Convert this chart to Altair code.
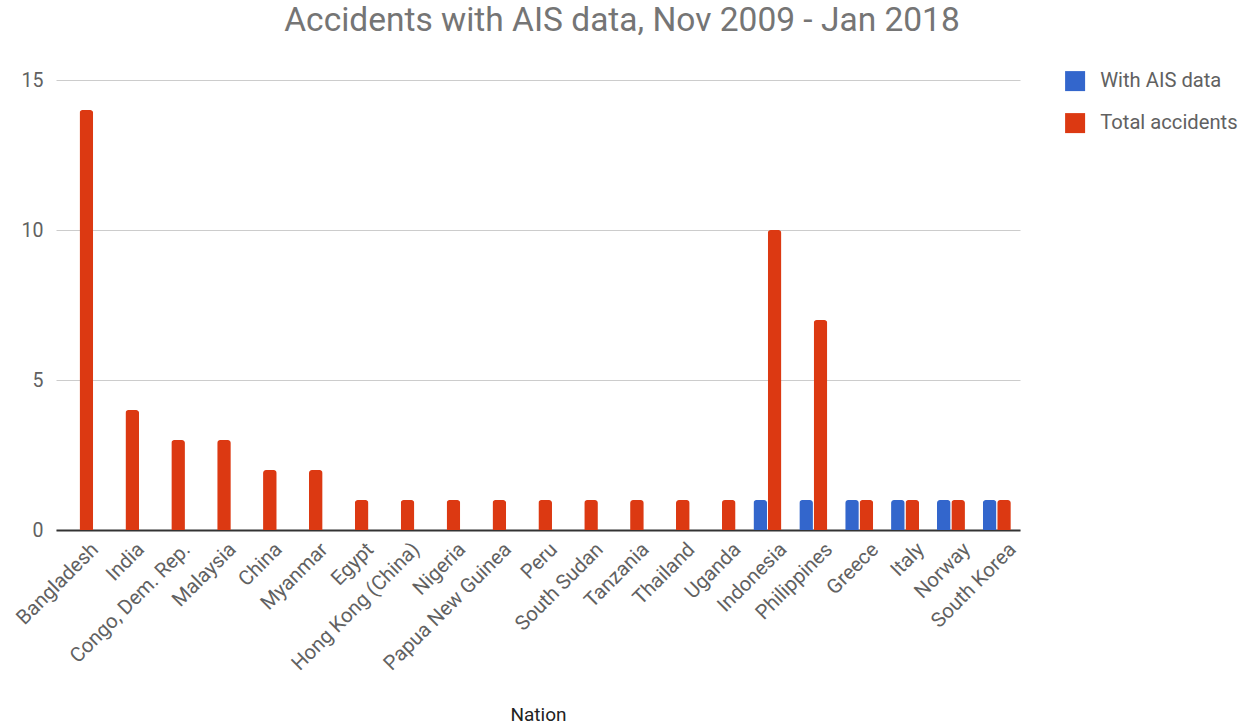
import altair as alt
import pandas as pd

nations = ["Bangladesh", "India", "Congo, Dem. Rep.", "Malaysia", "China", "Myanmar",
           "Egypt", "Hong Kong (China)", "Nigeria", "Papua New Guinea", "Peru",
           "South Sudan", "Tanzania", "Thailand", "Uganda", "Indonesia", "Philippines",
           "Greece", "Italy", "Norway", "South Korea"]
with_ais = [0, 0, 0, 0, 0, 0, 0, 0, 0, 0, 0, 0, 0, 0, 0, 1, 1, 1, 1, 1, 1]
total_accidents = [14, 4, 3, 3, 2, 2, 1, 1, 1, 1, 1, 1, 1, 1, 1, 10, 7, 1, 1, 1, 1]
series = ["With AIS data", "Total accidents"]
colors = ["#3366cc", "#dc3912"]

rows = []
for n, a, t in zip(nations, with_ais, total_accidents):
    rows.append({"Nation": n, "Series": series[0], "Value": a})
    rows.append({"Nation": n, "Series": series[1], "Value": t})
df = pd.DataFrame(rows)

FONT = "Roboto"

chart = alt.Chart(df).mark_bar(cornerRadiusTopLeft=3, cornerRadiusTopRight=3).encode(
    x=alt.X("Nation:N", sort=nations,
            scale=alt.Scale(paddingInner=0.39, paddingOuter=0.2),
            axis=alt.Axis(title="Nation", labelAngle=-45, labelFontSize=20.3,
                          labelColor="#616161", titleFontSize=19, titleColor="#222222",
                          titleFontWeight="normal", ticks=False, domain=True, grid=False,
                          domainColor="#333333", domainWidth=2, labelPadding=9,
                          labelOffset=9, titlePadding=31, labelFont=FONT, titleFont=FONT)),
    xOffset=alt.XOffset("Series:N", sort=series, scale=alt.Scale(paddingInner=0.05, paddingOuter=0)),
    y=alt.Y("Value:Q", scale=alt.Scale(domain=[0, 15]),
            axis=alt.Axis(title=None, values=[0, 5, 10, 15], labelFontSize=19.5,
                          labelColor="#616161", gridColor="#cccccc", domain=False,
                          ticks=False, labelPadding=13, labelFont=FONT)),
    color=alt.Color("Series:N", sort=series,
                    scale=alt.Scale(domain=series, range=colors),
                    legend=alt.Legend(title=None, orient="none", legendX=1009, legendY=-9,
                                      symbolType="square", symbolSize=400,
                                      symbolStrokeWidth=0, labelFontSize=20.2,
                                      labelColor="#616161", rowPadding=21,
                                      labelOffset=15, labelFont=FONT)),
).properties(
    width=964, height=450,
    title=alt.Title("Accidents with AIS data, Nov 2009 - Jan 2018", fontSize=33.5,
                    font=FONT, color="#757575", fontWeight="normal", anchor="middle",
                    dx=84, offset=32),
    padding={"left": 56, "top": 80, "right": 222, "bottom": 198},
    autosize=alt.AutoSizeParams(type="none"),
).configure(font=FONT).configure_view(stroke=None)

chart.save("out.html", embed_options={"renderer": "svg", "actions": False})
